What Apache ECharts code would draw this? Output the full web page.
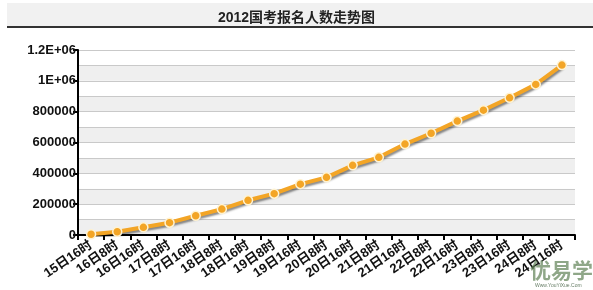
<!DOCTYPE html>
<html><head><meta charset="utf-8">
<script src="https://cdn.jsdelivr.net/npm/echarts@6/dist/echarts.min.js"></script>
<style>html,body{margin:0;padding:0;background:#fff}#c{width:593px;height:290px}</style>
</head><body><div id="c"></div>
<script>
var categories = ['15日16时','16日8时','16日16时','17日8时','17日16时','18日8时','18日16时','19日8时','19日16时','20日8时','20日16时','21日8时','21日16时','22日8时','22日16时','23日8时','23日16时','24日8时','24日16时'];
var applicants = [5000, 21000, 50000, 80000, 125000, 168000, 225000, 268000, 330000, 374000, 452000, 504000, 590000, 660000, 739000, 810000, 890000, 977000, 1102000];
var yTickValues = [0, 200000, 400000, 600000, 800000, 1000000, 1200000];
var yTickLabels = ['0', '200000', '400000', '600000', '800000', '1E+06', '1.2E+06'];
var titleText = '2012国考报名人数走势图';

var chart = echarts.init(document.getElementById('c'));
var font = 'Liberation Sans, Arial, Noto Sans CJK SC, sans-serif';
chart.setOption({
  animation: false,
  backgroundColor: '#fff',
  title: {
    text: titleText, left: 'center', top: 6,
    textStyle: {fontSize: 14, fontWeight: 'bold', color: '#222', fontFamily: font}
  },
  graphic: [
    {type: 'rect', z: -10, shape: {x: 7, y: 3, width: 586, height: 23}, style: {fill: '#f1f1f1'}},
    {type: 'rect', z: -5, shape: {x: 7, y: 26, width: 586, height: 2}, style: {fill: '#333'}},
    {type: 'text', z: 100, left: 530, top: 260, style: {text: '优易学', fontSize: 21, fontWeight: 'bold', fill: 'rgba(95,130,85,0.7)', fontFamily: 'Noto Sans CJK SC'}},
    {type: 'text', z: 100, left: 535, top: 283, style: {text: 'Www.YouYiXue.Com', fontSize: 5, fill: 'rgba(60,90,60,0.8)', fontFamily: font}}
  ],
  grid: {left: 78, right: 18, top: 50, bottom: 55},
  xAxis: {
    type: 'category', data: categories, boundaryGap: true,
    axisLine: {lineStyle: {color: '#000', width: 2}},
    axisTick: {show: true, length: 5, lineStyle: {color: '#000', width: 2}},
    axisLabel: {rotate: 34, interval: 0, margin: 9, fontSize: 13, fontWeight: 'bold', color: '#111', fontFamily: font},
    splitLine: {show: false}
  },
  yAxis: [
    {
      type: 'value', min: 0, max: 1200000, interval: 200000,
      axisLine: {show: true, lineStyle: {color: '#000', width: 2}},
      axisTick: {show: true, length: 5, lineStyle: {color: '#000', width: 2}},
      axisLabel: {
        margin: 2, fontSize: 13, fontWeight: 'bold', color: '#111', fontFamily: font,
        formatter: function (v) { var i = yTickValues.indexOf(v); return i >= 0 ? yTickLabels[i] : ''; }
      },
      splitLine: {show: false}, splitArea: {show: false}, z: 5
    },
    {
      type: 'value', min: 0, max: 1200000, interval: 100000, position: 'left',
      axisLine: {show: false}, axisTick: {show: false}, axisLabel: {show: false},
      splitLine: {show: true, lineStyle: {color: '#c9c9c9', width: 1}},
      splitArea: {show: true, areaStyle: {color: ['#efefef', '#ffffff']}}
    }
  ],
  series: [{
    type: 'line', data: applicants, yAxisIndex: 0,
    symbol: 'circle', symbolSize: 9, z: 10,
    lineStyle: {color: '#f3a526', width: 4, shadowColor: 'rgba(0,0,0,0.45)', shadowBlur: 2, shadowOffsetY: 2, shadowOffsetX: 1},
    itemStyle: {color: '#f3a526', borderColor: '#fff3d2', borderWidth: 1.5}
  }]
});
</script></body></html>
